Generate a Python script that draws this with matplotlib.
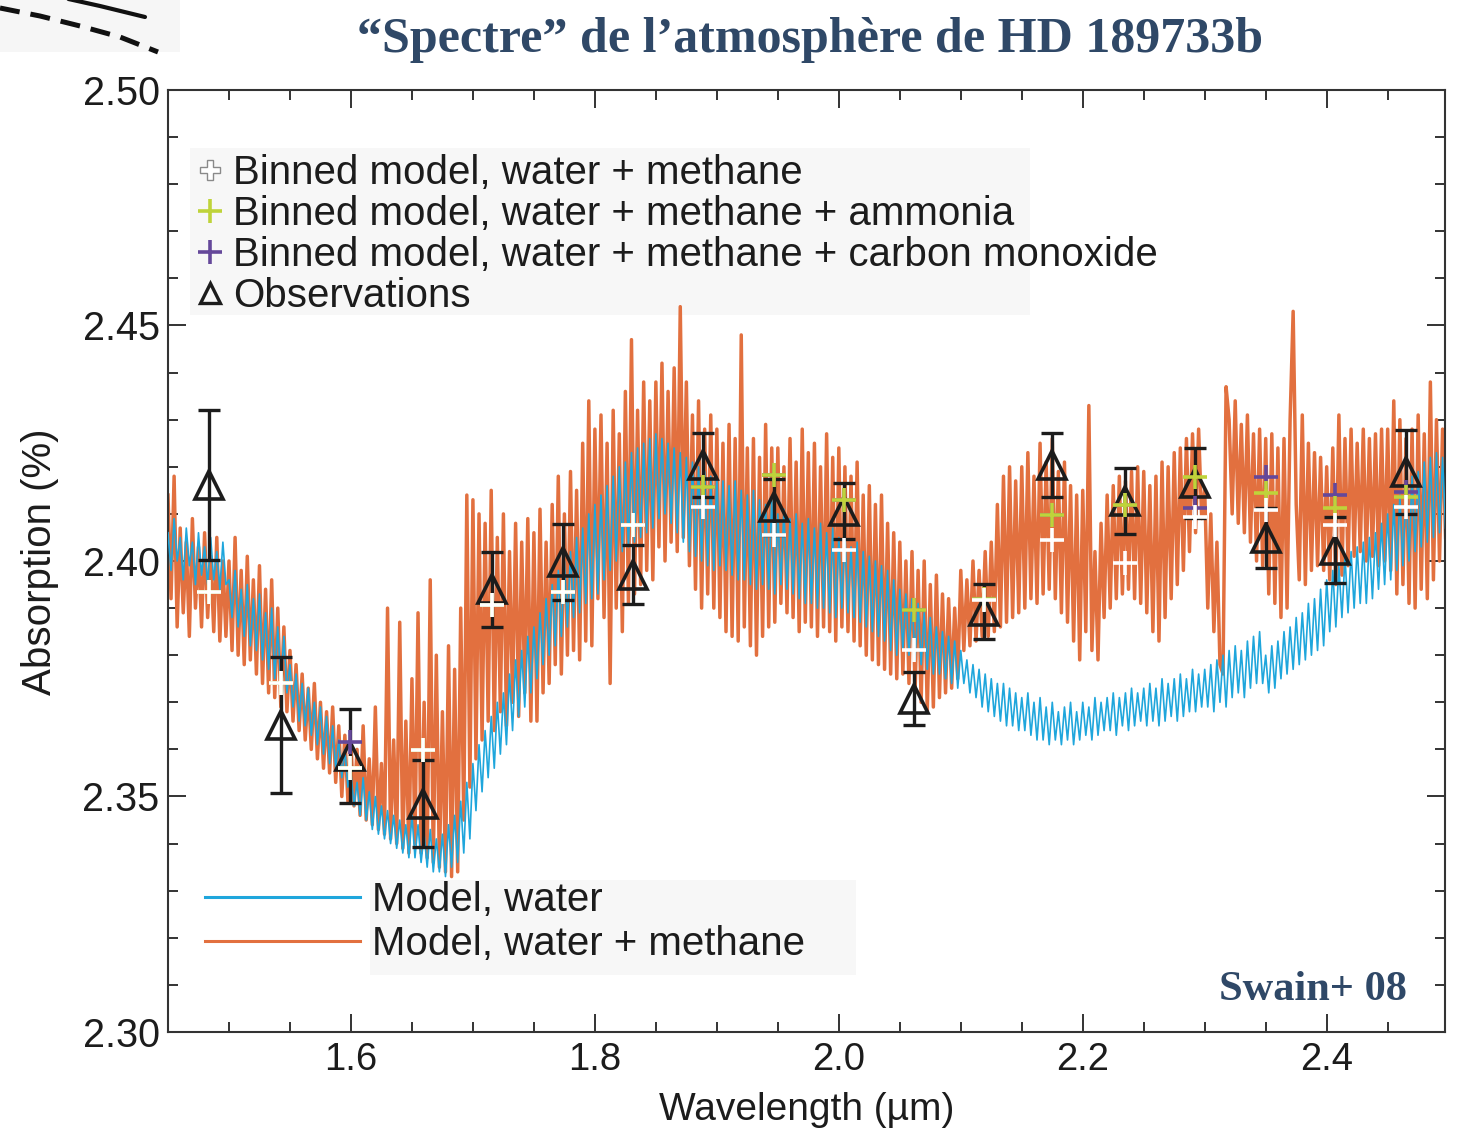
import numpy as np
import matplotlib
matplotlib.use("Agg")
import matplotlib.pyplot as plt
from matplotlib.lines import Line2D
from matplotlib.patches import Rectangle
from matplotlib.ticker import MultipleLocator

plt.rcParams['font.family'] = ['Liberation Sans', 'DejaVu Sans']

# ---- model spectra, sampled every 0.0025 micron from 1.450 micron ----
wave_start = 1.450
wave_step = 0.0025

model_water_methane = [
    2.414, 2.392, 2.418, 2.386, 2.407, 2.389, 2.404, 2.384, 2.409, 2.390, 2.403, 2.386, 2.406, 2.388, 2.401, 2.385, 2.405, 2.383, 2.400, 2.384,
    2.400, 2.381, 2.405, 2.380, 2.398, 2.378, 2.401, 2.379, 2.396, 2.376, 2.399, 2.374, 2.394, 2.372, 2.396, 2.371, 2.390, 2.369, 2.386, 2.368,
    2.381, 2.366, 2.378, 2.364, 2.376, 2.362, 2.373, 2.360, 2.374, 2.358, 2.370, 2.356, 2.368, 2.355, 2.369, 2.353, 2.365, 2.350, 2.363, 2.349,
    2.361, 2.348, 2.360, 2.346, 2.365, 2.345, 2.358, 2.344, 2.369, 2.343, 2.357, 2.342, 2.390, 2.341, 2.362, 2.340, 2.387, 2.339, 2.366, 2.338,
    2.375, 2.340, 2.389, 2.338, 2.370, 2.337, 2.396, 2.336, 2.380, 2.335, 2.368, 2.334, 2.382, 2.333, 2.377, 2.334, 2.390, 2.345, 2.414, 2.352,
    2.413, 2.358, 2.410, 2.362, 2.408, 2.366, 2.415, 2.364, 2.405, 2.368, 2.410, 2.365, 2.402, 2.370, 2.408, 2.367, 2.404, 2.372, 2.409, 2.366,
    2.406, 2.366, 2.411, 2.372, 2.404, 2.374, 2.412, 2.378, 2.418, 2.376, 2.410, 2.380, 2.419, 2.381, 2.415, 2.379, 2.425, 2.383, 2.434, 2.382,
    2.428, 2.392, 2.431, 2.388, 2.425, 2.374, 2.432, 2.390, 2.427, 2.385, 2.436, 2.391, 2.447, 2.393, 2.432, 2.395, 2.438, 2.398, 2.434, 2.396,
    2.438, 2.403, 2.442, 2.400, 2.436, 2.404, 2.441, 2.402, 2.454, 2.405, 2.438, 2.399, 2.431, 2.394, 2.434, 2.390, 2.428, 2.393, 2.431, 2.390,
    2.428, 2.388, 2.425, 2.385, 2.429, 2.384, 2.426, 2.383, 2.448, 2.386, 2.424, 2.382, 2.426, 2.380, 2.422, 2.384, 2.429, 2.386, 2.424, 2.387,
    2.424, 2.391, 2.420, 2.389, 2.426, 2.388, 2.421, 2.385, 2.428, 2.387, 2.423, 2.386, 2.425, 2.384, 2.420, 2.386, 2.427, 2.385, 2.422, 2.383,
    2.424, 2.386, 2.420, 2.385, 2.418, 2.383, 2.421, 2.382, 2.414, 2.380, 2.416, 2.379, 2.412, 2.378, 2.414, 2.377, 2.408, 2.376, 2.406, 2.375,
    2.404, 2.376, 2.400, 2.374, 2.402, 2.372, 2.398, 2.370, 2.400, 2.368, 2.395, 2.369, 2.397, 2.371, 2.393, 2.372, 2.392, 2.373, 2.390, 2.375,
    2.398, 2.381, 2.396, 2.382, 2.400, 2.383, 2.398, 2.384, 2.402, 2.384, 2.404, 2.385, 2.412, 2.386, 2.418, 2.387, 2.420, 2.388, 2.417, 2.389,
    2.420, 2.390, 2.423, 2.392, 2.418, 2.391, 2.425, 2.393, 2.421, 2.394, 2.426, 2.392, 2.419, 2.389, 2.421, 2.387, 2.416, 2.383, 2.414, 2.379,
    2.415, 2.385, 2.433, 2.381, 2.402, 2.379, 2.408, 2.388, 2.414, 2.390, 2.416, 2.392, 2.418, 2.393, 2.417, 2.394, 2.419, 2.392, 2.420, 2.391,
    2.419, 2.389, 2.416, 2.385, 2.418, 2.383, 2.421, 2.388, 2.420, 2.392, 2.423, 2.395, 2.424, 2.398, 2.426, 2.402, 2.427, 2.406, 2.428, 2.409,
    2.415, 2.390, 2.410, 2.385, 2.404, 2.378, 2.376, 2.437, 2.430, 2.410, 2.434, 2.408, 2.429, 2.406, 2.431, 2.404, 2.427, 2.400, 2.428, 2.399,
    2.426, 2.393, 2.427, 2.391, 2.424, 2.388, 2.426, 2.390, 2.430, 2.453, 2.412, 2.396, 2.431, 2.395, 2.425, 2.398, 2.423, 2.399, 2.422, 2.398,
    2.420, 2.396, 2.424, 2.395, 2.431, 2.397, 2.426, 2.399, 2.428, 2.401, 2.425, 2.402, 2.428, 2.400, 2.426, 2.401, 2.427, 2.399, 2.428, 2.400,
    2.428, 2.398, 2.434, 2.393, 2.430, 2.395, 2.426, 2.391, 2.428, 2.390, 2.431, 2.394, 2.427, 2.392, 2.438, 2.396, 2.430, 2.400, 2.428, 2.405,
]

model_water = [
    2.406, 2.398, 2.409, 2.400, 2.405, 2.396, 2.407, 2.399, 2.404, 2.395, 2.406, 2.397, 2.403, 2.395, 2.405, 2.396, 2.402, 2.394, 2.404, 2.395,
    2.396, 2.388, 2.398, 2.386, 2.394, 2.384, 2.395, 2.382, 2.392, 2.381, 2.393, 2.379, 2.389, 2.377, 2.390, 2.375, 2.386, 2.374, 2.384, 2.372,
    2.378, 2.369, 2.376, 2.366, 2.374, 2.365, 2.373, 2.363, 2.370, 2.361, 2.369, 2.359, 2.367, 2.357, 2.365, 2.356, 2.362, 2.354, 2.360, 2.352,
    2.355, 2.348, 2.353, 2.346, 2.354, 2.345, 2.351, 2.343, 2.350, 2.342, 2.348, 2.341, 2.347, 2.340, 2.346, 2.339, 2.345, 2.338, 2.344, 2.337,
    2.346, 2.337, 2.344, 2.336, 2.342, 2.335, 2.343, 2.334, 2.341, 2.334, 2.342, 2.333, 2.344, 2.335, 2.346, 2.336, 2.349, 2.338, 2.353, 2.341,
    2.357, 2.347, 2.361, 2.351, 2.364, 2.354, 2.367, 2.356, 2.370, 2.359, 2.372, 2.361, 2.376, 2.364, 2.379, 2.367, 2.381, 2.369, 2.384, 2.372,
    2.386, 2.375, 2.389, 2.378, 2.392, 2.380, 2.395, 2.382, 2.398, 2.384, 2.400, 2.386, 2.402, 2.388, 2.405, 2.389, 2.407, 2.391, 2.410, 2.392,
    2.412, 2.393, 2.414, 2.396, 2.416, 2.398, 2.418, 2.400, 2.420, 2.402, 2.421, 2.403, 2.423, 2.404, 2.424, 2.405, 2.425, 2.406, 2.426, 2.407,
    2.427, 2.409, 2.426, 2.410, 2.425, 2.408, 2.424, 2.406, 2.423, 2.404, 2.422, 2.402, 2.421, 2.401, 2.420, 2.400, 2.419, 2.399, 2.418, 2.398,
    2.418, 2.399, 2.417, 2.398, 2.416, 2.397, 2.417, 2.396, 2.415, 2.396, 2.414, 2.395, 2.415, 2.394, 2.413, 2.395, 2.412, 2.394, 2.413, 2.393,
    2.410, 2.395, 2.411, 2.394, 2.409, 2.393, 2.410, 2.392, 2.408, 2.391, 2.409, 2.391, 2.407, 2.390, 2.408, 2.390, 2.406, 2.389, 2.407, 2.388,
    2.405, 2.390, 2.406, 2.389, 2.403, 2.388, 2.404, 2.387, 2.402, 2.386, 2.401, 2.385, 2.400, 2.384, 2.399, 2.383, 2.398, 2.381, 2.396, 2.380,
    2.394, 2.381, 2.393, 2.380, 2.392, 2.379, 2.391, 2.378, 2.389, 2.377, 2.388, 2.376, 2.386, 2.376, 2.385, 2.375, 2.384, 2.374, 2.383, 2.373,
    2.381, 2.374, 2.379, 2.372, 2.378, 2.371, 2.377, 2.369, 2.376, 2.368, 2.375, 2.367, 2.374, 2.366, 2.374, 2.365, 2.373, 2.365, 2.372, 2.364,
    2.371, 2.364, 2.372, 2.363, 2.370, 2.362, 2.371, 2.362, 2.369, 2.361, 2.370, 2.362, 2.368, 2.361, 2.369, 2.362, 2.370, 2.361, 2.368, 2.362,
    2.370, 2.363, 2.369, 2.362, 2.371, 2.363, 2.370, 2.364, 2.371, 2.364, 2.372, 2.363, 2.371, 2.365, 2.372, 2.364, 2.373, 2.365, 2.372, 2.366,
    2.373, 2.365, 2.374, 2.366, 2.373, 2.365, 2.375, 2.366, 2.374, 2.367, 2.375, 2.366, 2.376, 2.367, 2.375, 2.368, 2.377, 2.368, 2.376, 2.369,
    2.377, 2.369, 2.378, 2.368, 2.379, 2.370, 2.380, 2.369, 2.381, 2.371, 2.382, 2.372, 2.381, 2.371, 2.383, 2.373, 2.384, 2.374, 2.385, 2.374,
    2.380, 2.372, 2.382, 2.373, 2.383, 2.375, 2.385, 2.376, 2.386, 2.377, 2.388, 2.378, 2.389, 2.379, 2.391, 2.380, 2.392, 2.381, 2.394, 2.382,
    2.396, 2.385, 2.398, 2.386, 2.399, 2.388, 2.401, 2.389, 2.402, 2.390, 2.403, 2.391, 2.404, 2.391, 2.405, 2.392, 2.406, 2.394, 2.408, 2.395,
    2.410, 2.396, 2.412, 2.398, 2.414, 2.399, 2.416, 2.400, 2.418, 2.402, 2.419, 2.403, 2.421, 2.404, 2.422, 2.405, 2.423, 2.406, 2.422, 2.407,
]

# ---- observations and binned models ----
bin_wave = [1.484, 1.543, 1.599, 1.659, 1.716, 1.774, 1.831, 1.889, 1.947,
            2.004, 2.062, 2.119, 2.175, 2.235, 2.292, 2.350, 2.407, 2.465]
obs_value = [2.4161, 2.3652, 2.3586, 2.3485, 2.3940, 2.3998, 2.3971, 2.4204, 2.4115,
             2.4106, 2.3708, 2.3893, 2.4204, 2.4127, 2.4166, 2.4049, 2.4023, 2.4189]
obs_error = [0.0159, 0.0144, 0.0100, 0.0092, 0.0080, 0.0081, 0.0063, 0.0068, 0.0060,
             0.0060, 0.0056, 0.0058, 0.0068, 0.0070, 0.0074, 0.0064, 0.0070, 0.0090]
binned_water_methane = [2.3934, 2.3741, 2.3560, 2.3599, 2.3907, 2.3934, 2.4076, 2.4115, 2.4055,
                        2.4023, 2.3811, 2.3917, 2.4045, 2.3996, 2.4093, 2.4108, 2.4076, 2.4115]
binned_ammonia = [2.3934, 2.3741, 2.3560, 2.3599, 2.3907, 2.3934, 2.4076, 2.4157, 2.4183,
                  2.4130, 2.3896, 2.3920, 2.4098, 2.4119, 2.4178, 2.4144, 2.4113, 2.4136]
binned_co = [2.3934, 2.3741, 2.3616, 2.3599, 2.3907, 2.3934, 2.4076, 2.4157, 2.4183,
             2.4130, 2.3896, 2.3920, 2.4098, 2.4119, 2.4113, 2.4178, 2.4140, 2.4147]

ORANGE = '#e2703f'
BLUE = '#1fa6dc'
GREEN = '#bfd33a'
PURPLE = '#65489a'
INK = '#1c1c1c'
TITLE_BLUE = '#2f4867'

wave = wave_start + wave_step * np.arange(len(model_water))

fig = plt.figure(figsize=(14.6, 11.31), dpi=100)
ax = fig.add_axes([168 / 1460, 1 - 1032 / 1131, 1277 / 1460, 942 / 1131])

# light panels behind the two legends
ax.add_patch(Rectangle((0.0172, 0.7611), 0.6578, 0.1773, transform=ax.transAxes,
                       facecolor='#f7f7f7', edgecolor='none', zorder=0.5))
ax.add_patch(Rectangle((0.1582, 0.0605), 0.3806, 0.1008, transform=ax.transAxes,
                       facecolor='#f7f7f7', edgecolor='none', zorder=0.5))

ax.plot(wave, model_water_methane, color=ORANGE, lw=2.5, zorder=2)
ax.plot(wave, model_water, color=BLUE, lw=1.2, zorder=3)

ax.errorbar(bin_wave, obs_value, yerr=obs_error, fmt='none', ecolor=INK,
            elinewidth=2.4, capsize=8, capthick=2.4, zorder=4)
ax.plot(bin_wave, obs_value, ls='none', marker='^', mfc='none', mec=INK,
        ms=20, mew=2.6, zorder=5)
ax.plot(bin_wave, binned_co, ls='none', marker='+', color=PURPLE, ms=17, mew=2.6, zorder=6)
ax.plot(bin_wave, binned_ammonia, ls='none', marker='+', color=GREEN, ms=17, mew=2.6, zorder=7)
ax.plot(bin_wave, binned_water_methane, ls='none', marker='+', color='white', ms=17, mew=2.6, zorder=8)

ax.set_xlim(1.45, 2.497)
ax.set_ylim(2.30, 2.50)
ax.xaxis.set_major_locator(MultipleLocator(0.2))
ax.xaxis.set_minor_locator(MultipleLocator(0.05))
ax.yaxis.set_major_locator(MultipleLocator(0.05))
ax.yaxis.set_minor_locator(MultipleLocator(0.01))
ax.xaxis.set_major_formatter(plt.FuncFormatter(lambda v, p: f'{v:.1f}'))
ax.yaxis.set_major_formatter(plt.FuncFormatter(lambda v, p: f'{v:.2f}'))

ax.tick_params(which='both', direction='in', top=True, right=True, color='#333333', width=1.4)
ax.tick_params(which='major', length=13)
ax.tick_params(which='minor', length=7)
ax.tick_params(axis='y', which='major', labelsize=28.5, pad=6, labelcolor=INK)
ax.tick_params(axis='x', which='major', labelsize=27.5, pad=7, labelcolor=INK)
for s in ax.spines.values():
    s.set_color('#333333')
    s.set_linewidth(1.5)

ax.set_ylabel('Absorption (%)', fontsize=29, color=INK)
ax.yaxis.set_label_coords(-0.085, 0.499)
ax.set_xlabel('Wavelength (µm)', fontsize=28, color=INK)
ax.xaxis.set_label_coords(0.5, -0.064)

# legend for the binned models and observations
marker_handles = [
    Line2D([], [], ls='none', marker='P', mfc='white', mec='#8a8a8a', mew=1.0, ms=15),
    Line2D([], [], ls='none', marker='+', color=GREEN, ms=17, mew=2.6),
    Line2D([], [], ls='none', marker='+', color=PURPLE, ms=17, mew=2.6),
    Line2D([], [], ls='none', marker='^', mfc='none', mec=INK, ms=14, mew=2.4),
]
marker_labels = ['Binned model, water + methane',
                 'Binned model, water + methane + ammonia',
                 'Binned model, water + methane + carbon monoxide',
                 'Observations']
leg1 = ax.legend(marker_handles, marker_labels, loc='upper left',
                 bbox_to_anchor=(0.0172, 0.9447), borderaxespad=0, frameon=False,
                 fontsize=29, handlelength=0.4, handletextpad=0.375,
                 labelspacing=0.075, borderpad=0.3, labelcolor=INK)
ax.add_artist(leg1)

line_handles = [Line2D([], [], color=BLUE, lw=2.2), Line2D([], [], color=ORANGE, lw=2.2)]
ax.legend(line_handles, ['Model, water', 'Model, water + methane'], loc='upper left',
          bbox_to_anchor=(0.0196, 0.1731), borderaxespad=0, frameon=False,
          fontsize=29, handlelength=3.85, handletextpad=0.3, labelspacing=0.15,
          borderpad=0.3, labelcolor=INK)

# headline and reference
fig.text(810 / 1460, 1 - 52 / 1131, '\u201cSpectre\u201d de l\u2019atmosph\u00e8re de HD 189733b',
         ha='center', va='baseline', fontsize=36, fontweight='bold',
         family=['Liberation Serif', 'DejaVu Serif'], color=TITLE_BLUE)
fig.text(1407 / 1460, 1 - 1000 / 1131, 'Swain+ 08', ha='right', va='baseline',
         fontsize=30.5, fontweight='bold', family=['Liberation Serif', 'DejaVu Serif'],
         color=TITLE_BLUE)

# curved strokes in the top-left corner
fig.add_artist(Rectangle((0, 1 - 52 / 1131), 180 / 1460, 52 / 1131, transform=fig.transFigure,
                         facecolor='#f6f6f6', edgecolor='none', zorder=0))
sx = np.array([55, 100, 145]) / 1460
sy = 1 - np.array([-4, 6, 17]) / 1131
fig.add_artist(Line2D(sx, sy, transform=fig.transFigure, color='#111111', lw=3.0,
                      solid_capstyle='round'))
dx = np.array([0, 40, 80, 120, 158]) / 1460
dy = 1 - np.array([8, 16, 26, 37, 52]) / 1131
fig.add_artist(Line2D(dx, dy, transform=fig.transFigure, color='#111111', lw=3.6,
                      dashes=(4, 2.2)))

fig.savefig('out.png', dpi=100)
